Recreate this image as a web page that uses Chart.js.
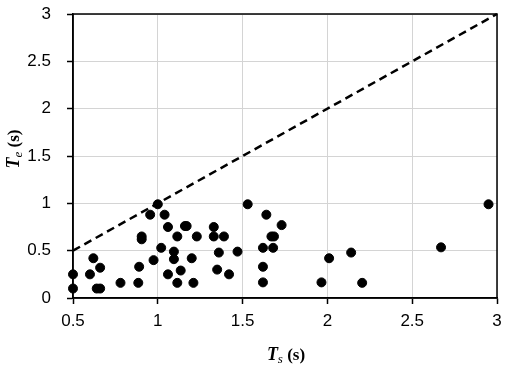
<!DOCTYPE html>
<html>
<head>
<meta charset="utf-8">
<script src="https://cdn.jsdelivr.net/npm/chart.js@4.4.1/dist/chart.umd.min.js"></script>
<style>
  html, body { margin: 0; padding: 0; background: #fff; }
  #wrap { width: 509px; height: 369px; }
</style>
</head>
<body>
<div id="wrap"><canvas id="chart" width="509" height="369"></canvas></div>
<script>
// observed points, Ts (s) vs Te (s)
const tsValues = [0.50, 0.50, 0.62, 0.66, 0.60, 0.64, 0.66, 0.78, 0.885, 0.89,
  0.905, 0.905, 0.975, 0.955, 1.00, 1.04, 1.02, 1.06, 1.095, 1.095,
  1.115, 1.16, 1.17, 1.135, 1.06, 1.115, 1.20, 1.21, 1.23, 1.33,
  1.33, 1.39, 1.36, 1.47, 1.35, 1.42, 1.53, 1.64, 1.73, 1.67,
  1.685, 1.62, 1.68, 1.62, 1.62, 1.965, 2.01, 2.14, 2.205, 2.67, 2.95];
const teValues = [0.25, 0.10, 0.42, 0.32, 0.25, 0.10, 0.10, 0.16, 0.16, 0.33,
  0.65, 0.62, 0.40, 0.88, 0.99, 0.88, 0.53, 0.75, 0.49, 0.41,
  0.65, 0.76, 0.76, 0.29, 0.25, 0.16, 0.42, 0.16, 0.65, 0.75,
  0.65, 0.65, 0.48, 0.49, 0.30, 0.25, 0.99, 0.88, 0.77, 0.65,
  0.65, 0.53, 0.53, 0.33, 0.165, 0.165, 0.42, 0.48, 0.16, 0.535, 0.99];
// 1:1 reference line
const lineX = [0.5, 3];
const lineY = [0.5, 3];

const tickFont = { family: 'Liberation Sans, Arial, sans-serif', size: 17 };

// frame + axis titles with subscripts
const framePlugin = {
    id: 'frame',
    afterDraw(chart) {
        const { ctx, chartArea: a } = chart;
        ctx.save();
        ctx.strokeStyle = '#000';
        ctx.lineWidth = 1.5;
        ctx.strokeRect(a.left, a.top, a.right - a.left, a.bottom - a.top);

        function title(x, y, rot, sub) {
            ctx.save();
            ctx.translate(x, y);
            ctx.rotate(rot);
            ctx.fillStyle = '#000';
            ctx.textBaseline = 'alphabetic';
            const fT = 'italic bold 18px "Liberation Serif", serif';
            const fSub = 'italic 13px "Liberation Serif", serif';
            const fS = 'bold 17px "Liberation Serif", serif';
            ctx.font = fT; const wT = ctx.measureText('T').width;
            ctx.font = fSub; const wSub = ctx.measureText(sub).width;
            ctx.font = fS; const wS = ctx.measureText(' (s)').width;
            let cx = -(wT + wSub + wS) / 2;
            ctx.font = fT; ctx.fillText('T', cx, 0); cx += wT;
            ctx.font = fSub; ctx.fillText(sub, cx, 3); cx += wSub;
            ctx.font = fS; ctx.fillText(' (s)', cx, 0);
            ctx.restore();
        }
        title((a.left + a.right) / 2 + 1, 360, 0, 's');
        title(19, 149, -Math.PI / 2, 'e');
        ctx.restore();
    }
};

const points = tsValues.map((x, i) => ({ x: x, y: teValues[i] }));
const linePts = lineX.map((x, i) => ({ x: x, y: lineY[i] }));

const gridOpts = {
    color: '#d4d4d4',
    lineWidth: 1,
    borderDash: [5, 4],
    tickColor: '#000',
    tickWidth: 1.5,
    tickLength: 6,
    tickBorderDash: []
};

new Chart(document.getElementById('chart').getContext('2d'), {
    type: 'scatter',
    data: {
        datasets: [
            {
                data: points,
                backgroundColor: '#000',
                borderColor: '#000',
                pointRadius: 4.5,
                pointHoverRadius: 4.5,
                clip: false
            },
            {
                type: 'line',
                data: linePts,
                borderColor: '#000',
                borderWidth: 2.5,
                borderDash: [8, 5],
                pointRadius: 0,
                fill: false,
                clip: false
            }
        ]
    },
    options: {
        responsive: false,
        animation: false,
        layout: { padding: { top: 14, right: 12, left: 0, bottom: 0 } },
        plugins: {
            legend: { display: false },
            tooltip: { enabled: false }
        },
        scales: {
            x: {
                type: 'linear',
                min: 0.5,
                max: 3,
                grid: gridOpts,
                border: { display: true, color: '#000', width: 1.5 },
                ticks: {
                    stepSize: 0.5,
                    color: '#000',
                    font: tickFont,
                    padding: 7,
                    maxRotation: 0,
                    callback: v => String(v)
                },
                afterFit(scale) {
                    scale.height = 71;
                    scale.paddingLeft = 0;
                    scale.paddingRight = 0;
                }
            },
            y: {
                type: 'linear',
                min: 0,
                max: 3,
                grid: gridOpts,
                border: { display: true, color: '#000', width: 1.5 },
                ticks: {
                    stepSize: 0.5,
                    color: '#000',
                    font: tickFont,
                    padding: 16,
                    callback: v => String(v)
                },
                afterFit(scale) {
                    scale.width = 73;
                    scale.paddingTop = 0;
                    scale.paddingBottom = 0;
                }
            }
        }
    },
    plugins: [framePlugin]
});
</script>
</body>
</html>
